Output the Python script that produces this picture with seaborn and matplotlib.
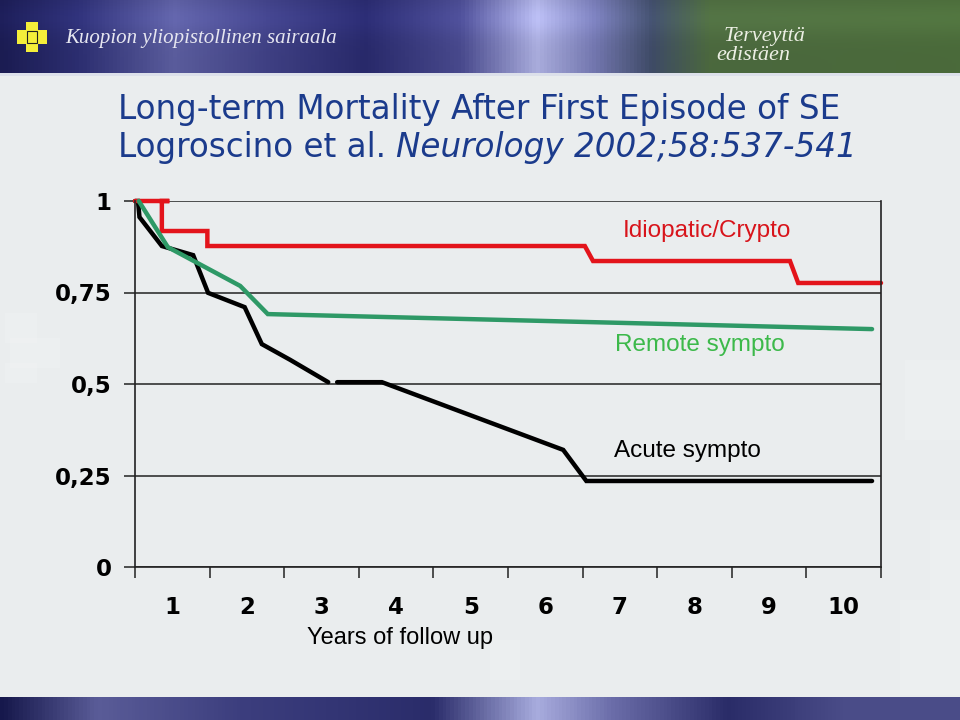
import numpy as np
import pandas as pd
import matplotlib
matplotlib.use("Agg")
import matplotlib.pyplot as plt
from matplotlib.colors import LinearSegmentedColormap
from matplotlib.patches import Rectangle
import seaborn as sns

# ---------------- data ----------------
years_ticks = [0, 1, 2, 3, 4, 5, 6, 7, 8, 9, 10]
year_labels = ["1", "2", "3", "4", "5", "6", "7", "8", "9", "10"]
y_ticks = [0, 0.25, 0.5, 0.75, 1.0]
y_labels = ["0", "0,25", "0,5", "0,75", "1"]

idio_t = [0.0, 0.46, 0.36, 0.36, 0.97, 0.97, 6.03, 6.14, 8.78, 8.89, 10.0]
idio_s = [1.0, 1.0, 1.0, 0.918, 0.918, 0.877, 0.877, 0.836, 0.836, 0.776, 0.776]

remote_t = [0.05, 0.44, 1.41, 1.78, 9.88]
remote_s = [1.0, 0.874, 0.768, 0.691, 0.650]

acute1_t = [0.0, 0.04, 0.06, 0.36, 0.78, 0.98, 1.47, 1.70, 2.08, 2.59]
acute1_s = [1.0, 1.0, 0.956, 0.877, 0.852, 0.749, 0.710, 0.609, 0.566, 0.505]
acute2_t = [2.71, 3.31, 5.74, 6.05, 9.88]
acute2_s = [0.505, 0.505, 0.320, 0.235, 0.235]

groups = ["Acute sympto", "Idiopatic/Crypto", "Remote sympto"]
colors = {"Acute sympto": "#000000", "Idiopatic/Crypto": "#E3141B",
          "Remote sympto": "#2E9966"}

df = pd.concat([
    pd.DataFrame({"t": acute1_t, "s": acute1_s, "g": groups[0], "seg": "a1"}),
    pd.DataFrame({"t": acute2_t, "s": acute2_s, "g": groups[0], "seg": "a2"}),
    pd.DataFrame({"t": idio_t, "s": idio_s, "g": groups[1], "seg": "i1"}),
    pd.DataFrame({"t": remote_t, "s": remote_s, "g": groups[2], "seg": "r1"}),
], ignore_index=True)

# ---------------- style ----------------
sns.set_theme(style="white")
plt.rcParams["font.family"] = ["DejaVu Sans"]
BG = "#EAEDEE"

fig = plt.figure(figsize=(9.6, 7.2), dpi=100)
fig.patch.set_facecolor(BG)

# ---- decorative banners ----
def banner(y0, h, stops, shade=True):
    bax = fig.add_axes([0, y0, 1, h])
    cmap = LinearSegmentedColormap.from_list("b", stops)
    xs = np.linspace(0, 1, 960)
    rgb = cmap(xs)[:, :3]
    rows = 60
    v = np.linspace(0, 1, rows)[:, None, None]
    mult = 1.0 + (0.12 * np.exp(-((v - 0.25) / 0.25) ** 2) if shade else 0)
    img = np.clip(rgb[None, :, :] * mult, 0, 1)
    bax.imshow(img, aspect="auto", extent=[0, 1, 0, 1])
    bax.set_axis_off()
    return bax

top_stops = [(0.00, "#1B1C52"), (0.08, "#2C2E70"), (0.18, "#5A5C9C"),
             (0.28, "#3E3F82"), (0.38, "#28296A"), (0.48, "#48498C"),
             (0.56, "#A9ACDC"), (0.62, "#7276AE"), (0.68, "#3E4A66"),
             (0.74, "#4B683E"), (1.00, "#4A6A3A")]
banner(1 - 73 / 720, 73 / 720, top_stops)
fig.add_artist(Rectangle((0, 1 - 76 / 720), 1, 3 / 720, transform=fig.transFigure,
                         facecolor="#DCE0EA", edgecolor="none"))

bot_stops = [(0.00, "#16184C"), (0.10, "#5A5C98"), (0.25, "#3C3E7E"),
             (0.45, "#2A2C6A"), (0.56, "#A8ACDE"), (0.64, "#6A6CA8"),
             (0.76, "#2A2C68"), (0.88, "#4A4C88"), (1.00, "#4A4C88")]
banner(0, 23 / 720, bot_stops, shade=False)

# faint decorative squares in the background
def px(x, y, w, h, **kw):
    fig.add_artist(Rectangle((x / 960, 1 - (y + h) / 720), w / 960, h / 720,
                             transform=fig.transFigure, **kw))
for (x, y, w, h) in [(5, 313, 32, 30), (10, 338, 50, 30), (5, 363, 32, 20),
                     (905, 360, 55, 80), (930, 520, 30, 80), (490, 640, 30, 40),
                     (900, 600, 60, 95)]:
    px(x, y, w, h, facecolor="#F2F4F4", edgecolor="none", alpha=0.35, zorder=-5)

# logo (yellow cross)
px(26, 22, 12, 30, facecolor="#F4EE3A", edgecolor="none")
px(17, 30, 30, 14, facecolor="#F4EE3A", edgecolor="none")
px(27, 31, 10, 12, facecolor="none", edgecolor="#222222", linewidth=0.8)

fig.text(65 / 960, 1 - 38 / 720, "Kuopion yliopistollinen sairaala",
         family="Liberation Serif", style="italic", fontsize=15,
         color="#E6E6F0", va="center", ha="left")
fig.text(724 / 960, 1 - 36 / 720, "Terveyttä", family="Liberation Serif",
         style="italic", fontsize=16, color="#ECEFE4", va="center", ha="left")
fig.text(716 / 960, 1 - 56 / 720, "edistäen", family="Liberation Serif",
         style="italic", fontsize=16, color="#ECEFE4", va="center", ha="left")

# ---- title ----
TITLE_C = "#1B3B8C"
TFS = 23.5
fig.text(118 / 960, 1 - 110 / 720, "Long-term Mortality After First Episode of SE",
         fontsize=TFS, color=TITLE_C, va="center", ha="left")
t1 = fig.text(118 / 960, 1 - 148 / 720, "Logroscino et al. ",
              fontsize=TFS, color=TITLE_C, va="center", ha="left")
renderer = fig.canvas.get_renderer()
bb = t1.get_window_extent(renderer=renderer)
fig.text(bb.x1 / fig.bbox.width, 1 - 148 / 720, "Neurology 2002;58:537-541",
         fontsize=TFS, color=TITLE_C, style="italic", va="center", ha="left")

# ---- main axes ----
ax = fig.add_axes([135 / 960, 1 - 567 / 720, 746 / 960, 366 / 720])
ax.set_facecolor("none")

sns.lineplot(data=df, x="t", y="s", hue="g", hue_order=groups, units="seg",
             estimator=None, sort=False, palette=colors, linewidth=3.2,
             legend=False, ax=ax)
for ln in ax.lines:
    ln.set_clip_on(False)
    ln.set_solid_joinstyle("miter")

ax.set_xlim(0, 10)
ax.set_ylim(0, 1)
ax.set_xticks(years_ticks)
ax.set_xticklabels([])
ax.set_xticks(np.arange(0.5, 10, 1), minor=True)
ax.set_xticklabels(year_labels, minor=True, fontsize=16.5, fontweight="bold",
                   color="#000000")
ax.tick_params(axis="x", which="minor", length=0, pad=21)
ax.tick_params(axis="x", which="major", direction="out", length=8, width=1.1,
               color="#222222", bottom=True)
ax.set_yticks(y_ticks)
ax.set_yticklabels(y_labels, fontsize=16.5, fontweight="bold", color="#000000")
ax.tick_params(axis="y", direction="out", length=8, width=1.1, color="#222222",
               left=True, pad=9)
ax.set_xlabel("")
ax.set_ylabel("")

ax.yaxis.grid(True, color="#222222", linewidth=1.1)
ax.xaxis.grid(False)
for side in ["left", "bottom", "right"]:
    ax.spines[side].set_visible(True)
    ax.spines[side].set_color("#222222")
    ax.spines[side].set_linewidth(1.2)
ax.spines["top"].set_visible(False)

ax.text(7.67, 0.918, "Idiopatic/Crypto", color="#D8141B", fontsize=17.5,
        family="Liberation Sans", ha="center", va="center")
ax.text(7.57, 0.607, "Remote sympto", color="#3CB94A", fontsize=17.5,
        family="Liberation Sans", ha="center", va="center")
ax.text(7.41, 0.317, "Acute sympto", color="#000000", fontsize=17.5,
        family="Liberation Sans", ha="center", va="center")

fig.text(400 / 960, 1 - 638 / 720, "Years of follow up",
         family=["Liberation Sans Narrow", "Liberation Sans"], fontsize=17,
         color="#000000", ha="center", va="center")

fig.savefig("out.png", dpi=100, facecolor=fig.get_facecolor())
